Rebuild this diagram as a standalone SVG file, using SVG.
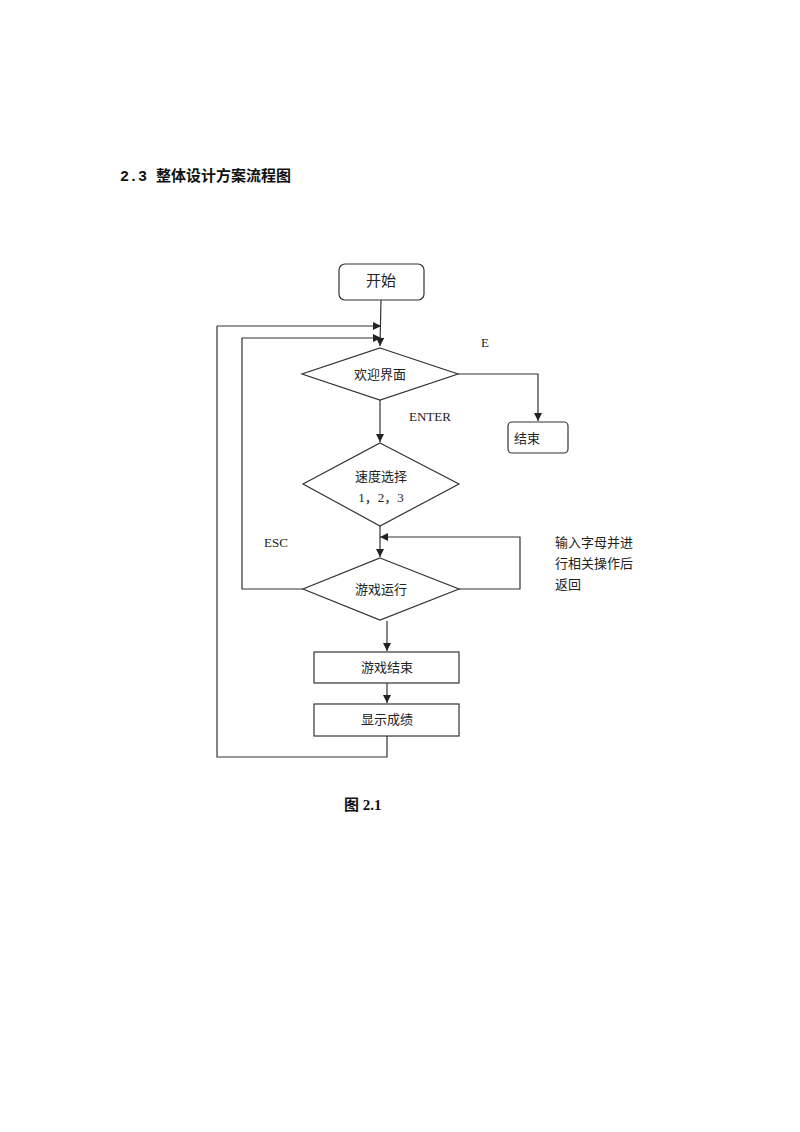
<svg xmlns="http://www.w3.org/2000/svg" width="800" height="1132" viewBox="0 0 800 1132">
<style>
.s{fill:#fff;stroke:#333;stroke-width:1.2}
.c{fill:none;stroke:#333;stroke-width:1.2}
.t{font-family:"Liberation Serif","Noto Sans CJK SC",serif;font-size:13px;fill:#222}
.m{text-anchor:middle}
</style>
<defs>
<marker id="a" viewBox="0 0 10 10" refX="10" refY="5" markerWidth="8" markerHeight="8" markerUnits="userSpaceOnUse" orient="auto"><path d="M0,0 L10,5 L0,10 z" fill="#222"/></marker>
</defs>
<rect width="800" height="1132" fill="#fff"/>
<text x="120" y="181" style="font-family:'Liberation Mono','Noto Sans CJK SC',monospace;font-size:15px;font-weight:bold" fill="#111">2.3 整体设计方案流程图</text>
<g id="connectors">
<path class="c" d="M381,300 L380,346" marker-end="url(#a)"/>
<path class="c" d="M217,326 L381,326" marker-end="url(#a)"/>
<path class="c" d="M303,589 L242,589 L242,338 L381,338" marker-end="url(#a)"/>
<path class="c" d="M458,374 L538,374 L538,421" marker-end="url(#a)"/>
<path class="c" d="M380,400 L380,442" marker-end="url(#a)"/>
<path class="c" d="M380,526 L380,557" marker-end="url(#a)"/>
<path class="c" d="M459,589 L520,589 L520,537 L380,537" marker-end="url(#a)"/>
<path class="c" d="M387,621 L387,651" marker-end="url(#a)"/>
<path class="c" d="M387,683 L387,703" marker-end="url(#a)"/>
<path class="c" d="M387,736 L387,757 L217,757 L217,326"/>
</g>
<g id="start"><rect class="s" x="339" y="264" width="85" height="36" rx="6"/><text class="t m" x="381" y="286" style="font-size:15px">开始</text></g>
<g id="welcome"><path class="s" d="M380,348 L458,374 L380,400 L302,374 z"/><text class="t m" x="380" y="379">欢迎界面</text></g>
<g id="end"><rect class="s" x="508" y="422" width="60" height="31" rx="4"/><text class="t" x="514" y="443">结束</text></g>
<g id="speed"><path class="s" d="M380,443 L459,484 L380,526 L303,484 z"/><text class="t m" x="381" y="481">速度选择</text><text class="t m" x="381" y="502">1，2，3</text></g>
<g id="run"><path class="s" d="M380,558 L459,589 L380,620 L303,589 z"/><text class="t m" x="381" y="594">游戏运行</text></g>
<g id="gameover"><rect class="s" x="314" y="652" width="145" height="31"/><text class="t m" x="387" y="672">游戏结束</text></g>
<g id="score"><rect class="s" x="314" y="704" width="145" height="32"/><text class="t m" x="387" y="724">显示成绩</text></g>
<g id="labels">
<text class="t" x="481" y="347">E</text>
<text class="t" x="409" y="421">ENTER</text>
<text class="t" x="264" y="547">ESC</text>
<text class="t" x="555" y="547">输入字母并进</text>
<text class="t" x="555" y="568">行相关操作后</text>
<text class="t" x="555" y="589">返回</text>
</g>
<text x="344" y="810" style="font-family:'Liberation Serif','Noto Sans CJK SC',serif;font-size:15px;font-weight:bold" fill="#111">图 2.1</text>
</svg>
